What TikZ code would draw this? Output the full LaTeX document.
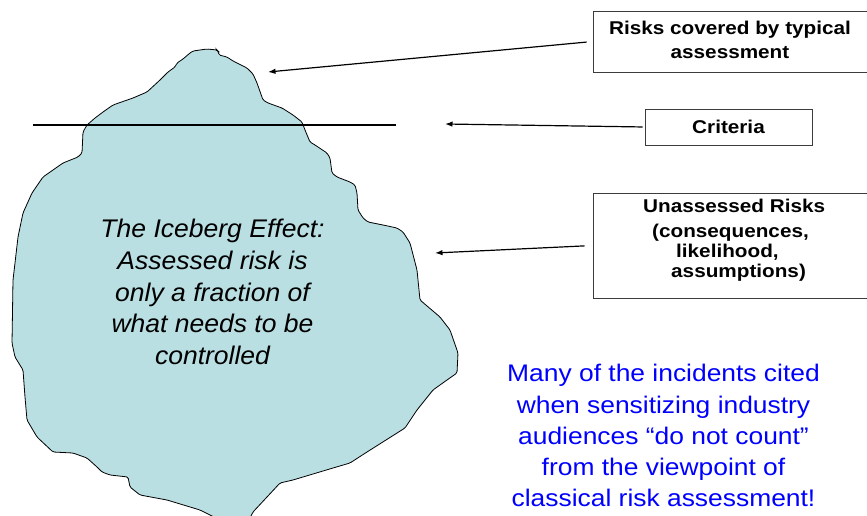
\documentclass[tikz,border=0pt]{standalone}
\usepackage{fontspec}
\setmainfont{Liberation Sans}
\newfontfamily\boxfont[FakeStretch=1.12]{Liberation Sans}
\newfontfamily\bergfont[FakeStretch=1.04]{Liberation Sans}
\newfontfamily\notefont[FakeStretch=1.10]{Liberation Sans}
\usetikzlibrary{arrows.meta}
\definecolor{icefill}{RGB}{185,223,226}
\definecolor{boxedge}{RGB}{60,60,60}

\begin{document}
\begin{tikzpicture}[x=1pt,y=-1pt,
  iceberg/.style={fill=icefill, draw=black, line width=0.8pt, rounded corners=1.5pt},
  waterline/.style={draw=black, line width=1.5pt},
  labelbox/.style={draw=boxedge, line width=0.8pt, inner sep=0pt, fill=white},
  boxtext/.style={font=\boxfont\bfseries\fontsize{18.5}{24}\selectfont, inner sep=0pt},
  boxline/.style={boxtext, anchor=base west},
  bergtext/.style={font=\bergfont\itshape\fontsize{25.5}{31.75}\selectfont, inner sep=0pt, align=center},
  notetext/.style={font=\notefont\fontsize{24}{31.25}\selectfont, text=blue, inner sep=0pt, align=center},
  pointer/.style={draw=black, line width=1.2pt, -{Latex[length=7.5pt,width=5.5pt]}}
]
\clip (0,0) rectangle (867,516);

% the iceberg, above and below the water
\path[iceberg]
  (190,53) -- (193,51) -- (207,49) -- (217,50) -- (218,51) -- (219,55) -- (227,57)
  -- (233,61) -- (247,68) -- (253,74) -- (257,83) -- (263,100) -- (268,103)
  -- (282,108) -- (293,115) -- (302,122) -- (305,130) -- (310,142) -- (315,145)
  -- (327,153) -- (330,158) -- (332,173) -- (337,177) -- (350,182) -- (355,185)
  -- (357,193) -- (358,210) -- (363,218) -- (368,222) -- (383,225) -- (397,228)
  -- (403,232) -- (410,243) -- (417,270) -- (420,300) -- (440,317) -- (450,330)
  -- (458,353) -- (457,373) -- (447,380) -- (433,390) -- (417,410) -- (405,428)
  -- (367,452) -- (350,463) -- (333,468) -- (293,480) -- (280,483) -- (267,497)
  -- (253,512) -- (248,522) -- (224,522) -- (200,510) -- (167,500) -- (140,495)
  -- (130,487) -- (128,477) -- (110,475) -- (102,472) -- (97,467) -- (87,458)
  -- (73,453) -- (53,452) -- (37,437) -- (27,420) -- (25,397) -- (23,370)
  -- (15,357) -- (12,343) -- (13,280) -- (15,263) -- (18,237) -- (23,213)
  -- (32,193) -- (43,177) -- (63,163) -- (78,157) -- (82,153) -- (83,132)
  -- (87,125) -- (95,118) -- (103,112) -- (113,105) -- (133,98) -- (147,92)
  -- (160,80) -- (168,72) -- (175,67) -- (177,63) -- (183,59) -- cycle;

% water line
\coordinate (wl) at (33,125);
\coordinate (wr) at (396,125);
\draw[waterline] (wl) -- (wr);

\node[bergtext] (berg) at (212.5,292)
  {The Iceberg Effect:\\Assessed risk is\\only a fraction of\\what needs to be\\controlled};

% label boxes
\node[labelbox, minimum width=275pt, minimum height=61pt] (covered) at (730.5,41.5) {};
\node[boxtext, align=center] (coveredtxt) at (730,40) {Risks covered by typical\\assessment};

\node[labelbox, minimum width=167pt, minimum height=36pt] (crit) at (728.5,127) {};
\node[boxtext, anchor=base] (crittxt) at (728.5,134) {Criteria};

\node[labelbox, minimum width=283pt, minimum height=105pt] (unass) at (734.5,245.5) {};
\node[boxline] (unass1) at (643,212) {Unassessed Risks};
\node[boxline] (unass2) at (652,237) {(consequences,};
\node[boxline] (unass3) at (676,257) {likelihood,};
\node[boxline] (unass4) at (671,277) {assumptions)};

% pointers onto the iceberg
\coordinate (tipcovered) at (268,72);
\coordinate (tipcrit) at (445,124);
\coordinate (tipunass) at (435,253);
\draw[pointer, shorten <=6pt] (covered.west) -- (tipcovered);
\draw[pointer, shorten <=2pt] (crit.west) -- (tipcrit);
\draw[pointer, shorten <=8pt] (unass.west) -- (tipunass);

\node[notetext] (note) at (663.5,435.75)
  {Many of the incidents cited\\when sensitizing industry\\audiences “do not count”\\from the viewpoint of\\classical risk assessment!};
\end{tikzpicture}
\end{document}
